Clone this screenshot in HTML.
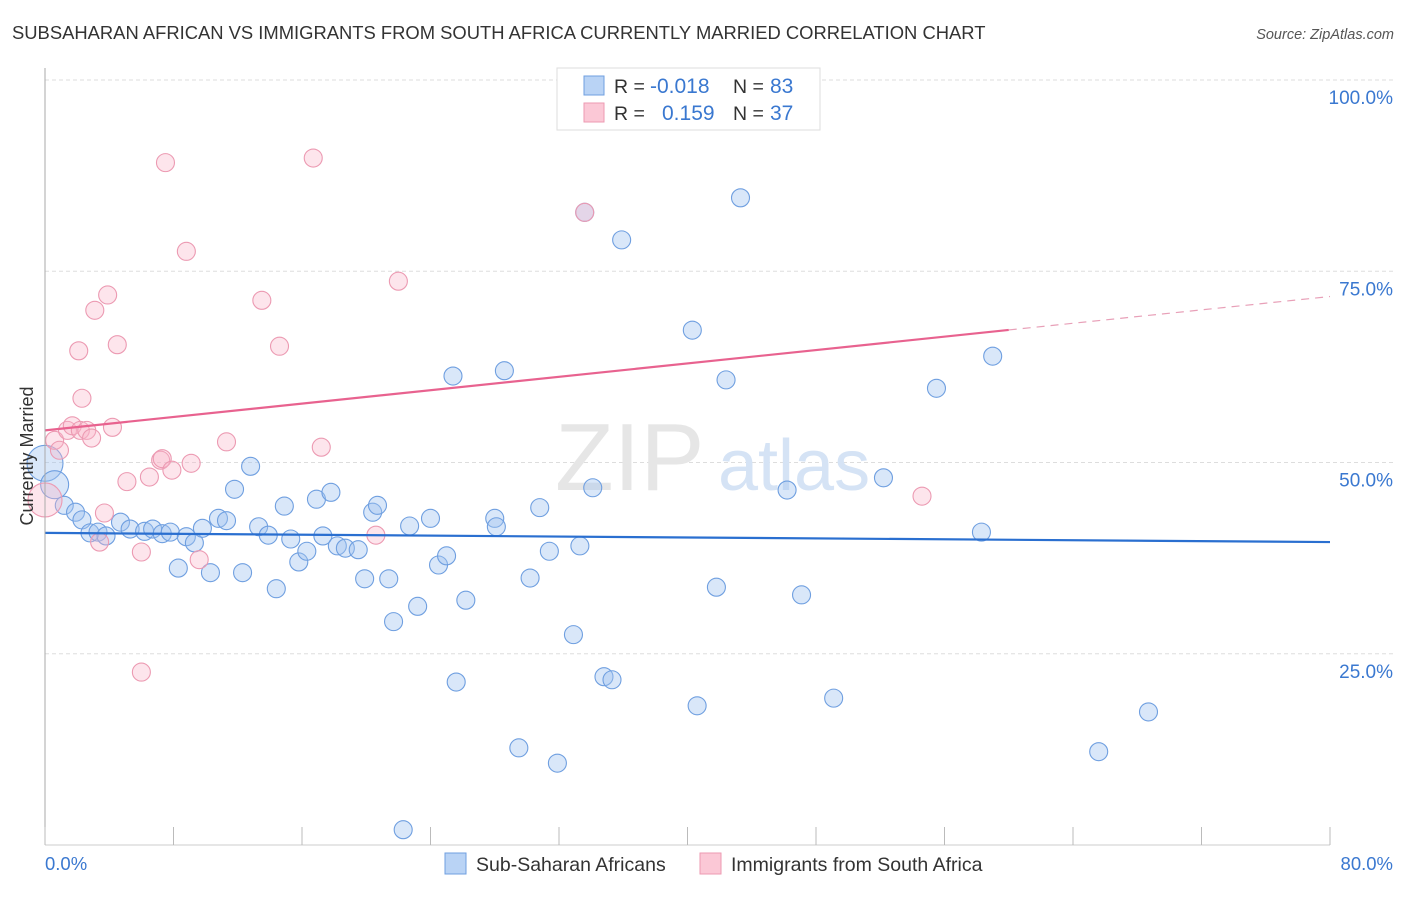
<!DOCTYPE html>
<html><head><meta charset="utf-8"><style>
body{margin:0;background:#fff;font-family:"Liberation Sans",sans-serif;}
svg text{font-family:"Liberation Sans",sans-serif;}
</style></head><body>
<svg id="chart" width="1406" height="892" viewBox="0 0 1406 892" xmlns="http://www.w3.org/2000/svg">
<text x="12" y="39" font-size="18.4" fill="#333">SUBSAHARAN AFRICAN VS IMMIGRANTS FROM SOUTH AFRICA CURRENTLY MARRIED CORRELATION CHART</text>
<text x="1394" y="39" font-size="14.5" fill="#555" font-style="italic" text-anchor="end">Source: ZipAtlas.com</text>
<g id="grid"></g>
<text x="555" y="490" font-size="96" fill="#e6e6e6" font-family="Liberation Serif,serif">ZIP</text>
<text x="718" y="490" font-size="72" fill="#d5e3f5">atlas</text>
<g id="points"></g>
<g id="trends"></g>
<line x1="45" y1="68" x2="45" y2="845" stroke="#aaa" stroke-width="1"/>
<line x1="45" y1="845" x2="1330" y2="845" stroke="#ccc" stroke-width="1"/>
<g id="xticks"></g>
<text transform="translate(33,456) rotate(-90)" font-size="18" fill="#333" text-anchor="middle">Currently Married</text>
<text x="45" y="870" font-size="18.5" fill="#3a78d0">0.0%</text>
<text x="1393" y="870" font-size="18.5" fill="#3a78d0" text-anchor="end">80.0%</text>
<g>
<rect x="557" y="68" width="263" height="62" fill="#fff" stroke="#ddd"/>
<rect x="584" y="76" width="20" height="19" fill="#b9d3f5" stroke="#6f9fe0"/>
<rect x="584" y="103" width="20" height="19" fill="#fbc8d6" stroke="#ec9ab2"/>
<text x="614" y="93" font-size="19.5" fill="#333">R = </text><text x="650" y="93" font-size="21" fill="#3a78d0">-0.018</text>
<text x="733" y="93" font-size="19.5" fill="#333">N = </text><text x="770" y="93" font-size="21" fill="#3a78d0">83</text>
<text x="614" y="120" font-size="19.5" fill="#333">R = </text><text x="662" y="120" font-size="21" fill="#3a78d0">0.159</text>
<text x="733" y="120" font-size="19.5" fill="#333">N = </text><text x="770" y="120" font-size="21" fill="#3a78d0">37</text>
</g>
<g>
<rect x="445" y="853" width="21" height="21" fill="#b9d3f5" stroke="#6f9fe0"/>
<text x="476" y="871" font-size="19.5" fill="#333">Sub-Saharan Africans</text></g>
<g>
<rect x="700" y="853" width="21" height="21" fill="#fbc8d6" stroke="#ec9ab2"/>
<text x="731" y="871" font-size="19.5" fill="#333">Immigrants from South Africa</text></g>
</svg>
<script>
const blueX=[0,0.6,1.2,1.9,2.3,2.8,3.3,3.8,4.7,5.3,6.2,6.7,7.3,7.8,8.3,8.8,9.3,9.8,10.3,10.8,11.3,11.8,12.3,12.8,13.3,13.9,14.4,14.9,15.3,15.8,16.3,16.9,17.3,17.8,18.2,18.7,19.5,19.9,20.4,20.7,21.4,21.7,22.3,22.7,23.2,24.0,24.5,25.0,25.4,25.6,26.2,28.0,28.1,28.6,29.5,30.2,30.8,31.4,31.9,32.9,33.6,34.1,33.3,34.8,35.3,35.9,40.3,40.6,41.8,42.4,43.3,46.2,47.1,49.1,52.2,55.5,58.3,59.0,65.6,68.7];
const blueY=[49.9,47.1,44.4,43.5,42.5,40.8,40.9,40.4,42.2,41.3,41.0,41.3,40.7,40.9,36.2,40.3,39.5,41.4,35.6,42.7,42.4,46.5,35.6,49.5,41.6,40.5,33.5,44.3,40.0,37.0,38.4,45.2,40.4,46.1,39.1,38.8,38.6,34.8,43.5,44.4,34.8,29.2,2.0,41.7,31.2,42.7,36.6,37.8,61.3,21.3,32.0,42.7,41.6,62.0,12.7,34.9,44.1,38.4,10.7,27.5,82.7,46.7,39.1,22.0,21.6,79.1,67.3,18.2,33.7,60.8,84.6,46.4,32.7,19.2,48.0,59.7,40.9,63.9,12.2,17.4];
const pinkX=[0,0.6,0.9,1.4,1.7,2.2,2.3,2.6,2.9,3.1,2.1,3.4,3.7,3.9,4.2,4.5,5.1,6.0,6.0,6.5,7.2,7.3,7.5,7.9,8.8,9.1,9.6,11.3,13.5,14.6,16.7,17.2,20.6,22.0,33.6,54.6];
const pinkY=[45.1,52.9,51.6,54.2,54.8,54.2,58.4,54.2,53.2,69.9,64.6,39.6,43.4,71.9,54.6,65.4,47.5,38.3,22.6,48.1,50.3,50.5,89.2,49.0,77.6,49.9,37.3,52.7,71.2,65.2,89.8,52.0,40.5,73.7,82.7,45.6];
const yTicks=[25,50,75,100];
const yTickLabels=["25.0%","50.0%","75.0%","100.0%"];
const xTicks=[0,8,16,24,32,40,48,56,64,72,80];
const blueTrend=[40.8,39.6];
const pinkTrend=[54.2,71.7];
const pinkSolidEnd=60;
const NS="http://www.w3.org/2000/svg";
const X=v=>45+v*(1285/80);
const Y=v=>845-v*7.65;
function mk(t,a,p){const e=document.createElementNS(NS,t);for(const k in a)e.setAttribute(k,a[k]);p.appendChild(e);return e;}
const grid=document.getElementById('grid');
yTicks.forEach((t,i)=>{
 const l=mk('line',{x1:45,x2:1393,y1:Y(t),y2:Y(t),stroke:'#ddd','stroke-dasharray':'4,3'},grid);
 
 
 const tx=mk('text',{x:1393,y:Y(t)+24,'font-size':19,fill:'#3a78d0','text-anchor':'end'},grid);
 tx.textContent=yTickLabels[i];
 
 
});
const xt=document.getElementById('xticks');
xTicks.forEach(t=>{
 const l=mk('line',{x1:X(t),x2:X(t),y1:827,y2:845,stroke:'#bbb'},xt);
 
 
});
const pts=document.getElementById('points');
blueX.forEach((x,i)=>{
 const r=i==0?18:(i==1?14:9);
 const c=mk('circle',{cx:X(x),cy:Y(blueY[i]),r:r,fill:'rgba(160,196,240,0.4)',stroke:'#6f9fe0','stroke-width':1.1},pts);
 
 
});
pinkX.forEach((x,i)=>{
 const r=i==0?17:9;
 const c=mk('circle',{cx:X(x),cy:Y(pinkY[i]),r:r,fill:'rgba(248,180,200,0.35)',stroke:'#ec9ab2','stroke-width':1.1},pts);
 
 
});
const tr=document.getElementById('trends');
const bl=mk('line',{x1:X(0),y1:Y(blueTrend[0]),x2:X(80),y2:Y(blueTrend[1]),stroke:'#2a6fd0','stroke-width':2.2},tr);


const pAt=v=>pinkTrend[0]+(pinkTrend[1]-pinkTrend[0])*v/80;
const pl=mk('line',{x1:X(0),y1:Y(pinkTrend[0]),x2:X(pinkSolidEnd),y2:Y(pAt(pinkSolidEnd)),stroke:'#e8628f','stroke-width':2.2},tr);


const pd=mk('line',{x1:X(pinkSolidEnd),y1:Y(pAt(pinkSolidEnd)),x2:X(80),y2:Y(pinkTrend[1]),stroke:'#e8a0b8','stroke-width':1.2,'stroke-dasharray':'8,6'},tr);


</script>
</body></html>
